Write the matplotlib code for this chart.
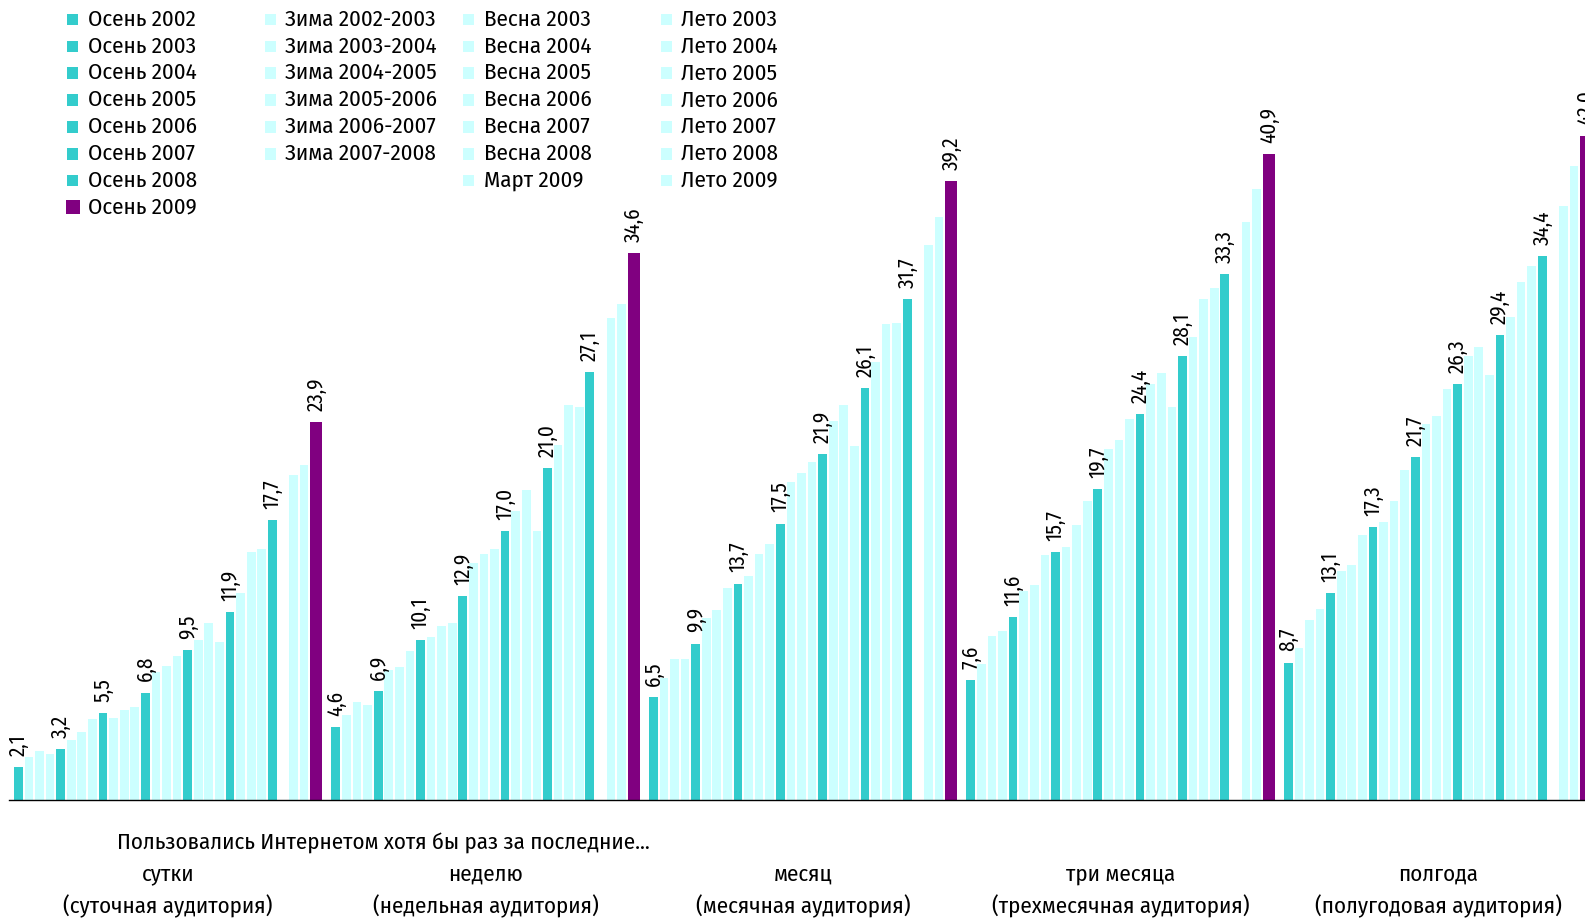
import matplotlib
matplotlib.use('Agg')
import matplotlib.pyplot as plt
from matplotlib.patches import Rectangle
import numpy as np

# ---------------- DATA ----------------
periods = [
    'Осень 2002', 'Зима 2002-2003', 'Весна 2003', 'Лето 2003',
    'Осень 2003', 'Зима 2003-2004', 'Весна 2004', 'Лето 2004',
    'Осень 2004', 'Зима 2004-2005', 'Весна 2005', 'Лето 2005',
    'Осень 2005', 'Зима 2005-2006', 'Весна 2006', 'Лето 2006',
    'Осень 2006', 'Зима 2006-2007', 'Весна 2007', 'Лето 2007',
    'Осень 2007', 'Зима 2007-2008', 'Весна 2008', 'Лето 2008',
    'Осень 2008', 'Март 2009', 'Лето 2009', 'Осень 2009',
]

groups = ['сутки', 'неделю', 'месяц', 'три месяца', 'полгода']
group_sub = ['(суточная аудитория)', '(недельная аудитория)', '(месячная аудитория)',
             '(трехмесячная аудитория)', '(полугодовая аудитория)']

daily = [2.1, 2.7, 3.1, 2.9, 3.2, 3.8, 4.3, 5.1, 5.5, 5.2, 5.7, 5.9, 6.8, 8.1,
         8.5, 9.1, 9.5, 10.1, 11.2, 10.0, 11.9, 13.1, 15.7, 15.9, 17.7, 20.6, 21.2, 23.9]
weekly = [4.6, 5.4, 6.2, 6.0, 6.9, 8.2, 8.4, 9.4, 10.1, 10.3, 11.0, 11.2, 12.9, 15.0,
          15.6, 15.9, 17.0, 18.3, 19.6, 17.0, 21.0, 22.5, 25.0, 24.9, 27.1, 30.5, 31.4, 34.6]
monthly = [6.5, 7.7, 8.9, 8.9, 9.9, 11.5, 12.0, 13.4, 13.7, 14.2, 15.6, 16.2, 17.5, 20.1,
           20.7, 21.4, 21.9, 24.0, 25.0, 22.4, 26.1, 27.7, 30.1, 30.2, 31.7, 35.1, 36.9, 39.2]
three_month = [7.6, 8.6, 10.4, 10.7, 11.6, 13.2, 13.6, 15.5, 15.7, 16.0, 17.4, 18.9, 19.7, 22.2,
               22.8, 24.1, 24.4, 26.3, 27.0, 24.9, 28.1, 29.3, 31.7, 32.4, 33.3, 36.6, 38.7, 40.9]
half_year = [8.7, 9.6, 11.4, 12.1, 13.1, 14.5, 14.9, 16.8, 17.3, 17.6, 18.9, 20.9, 21.7, 23.8,
             24.3, 26.0, 26.3, 28.1, 28.7, 26.9, 29.4, 30.6, 32.8, 33.8, 34.4, 37.6, 40.1, 42.0]
series = [daily, weekly, monthly, three_month, half_year]

intro = 'Пользовались Интернетом хотя бы раз за последние…'

# ---------------- STYLE ----------------
TEAL = '#33CCCC'
LIGHT = '#CCFFFF'
PURPLE = '#800080'
FONT = ['Fira Sans Condensed', 'DejaVu Sans']
plt.rcParams['font.family'] = FONT
TXT = 16.5
VAL = 15.2

W, H = 1585, 923
fig = plt.figure(figsize=(W / 100, H / 100), dpi=100)

PITCH = 10.583      # px per slot
X0 = 14.0           # px of first bar's left edge
AX_L, AX_R = 9, 1605
BASE = 800
TOP = 10
PX_UNIT = 15.8
ax = fig.add_axes([AX_L / W, (H - BASE) / H, (AX_R - AX_L) / W, (BASE - TOP) / H])
ax.set_xlim((AX_L - X0) / PITCH, (AX_R - X0) / PITCH)
ax.set_ylim(0, (BASE - TOP) / PX_UNIT)
for s in ['top', 'right', 'left']:
    ax.spines[s].set_visible(False)
ax.spines['bottom'].set_linewidth(1.0)
ax.spines['bottom'].set_color('black')
ax.set_xticks([])
ax.set_yticks([])
ax.patch.set_alpha(0)

GROUP_SLOTS = 30
def slot_of(i):
    # the slot for "Зима 2008-2009" stays empty (no measurement)
    return i if i < 25 else i + 1

def color_of(p):
    if p == 'Осень 2009':
        return PURPLE
    if p.startswith('Осень'):
        return TEAL
    return LIGHT

for g, vals in enumerate(series):
    xs = [g * GROUP_SLOTS + slot_of(i) for i in range(len(periods))]
    widths = [1.13 if p == 'Осень 2009' else 0.82 for p in periods]
    cols = [color_of(p) for p in periods]
    ax.bar(xs, vals, width=widths, align='edge', color=cols, edgecolor='none', zorder=2)
    for x, w, v, p in zip(xs, widths, vals, periods):
        if p.startswith('Осень'):
            ax.annotate(f'{v:.1f}'.replace('.', ','), xy=(x + w / 2, v),
                        xytext=(0, 8.0), textcoords='offset points',
                        rotation=90, ha='center', va='bottom', fontsize=VAL,
                        color='black', annotation_clip=False)
    gc = g * GROUP_SLOTS + (slot_of(len(periods) - 1) + 1.13) / 2
    ax.text(gc, -(874 - BASE) / (BASE - TOP), groups[g], transform=ax.get_xaxis_transform(),
            ha='center', va='center', fontsize=TXT, color='black')
    ax.text(gc, -(906 - BASE) / (BASE - TOP), group_sub[g], transform=ax.get_xaxis_transform(),
            ha='center', va='center', fontsize=TXT, color='black')

fig.text(117 / W, 1 - 843 / H, intro, ha='left', va='center', fontsize=TXT, color='black')

# ---------------- LEGEND (manual, 4 columns) ----------------
legend_cols = [
    [p for p in periods if p.startswith('Осень')],
    [p for p in periods if p.startswith('Зима')],
    [p for p in periods if p.startswith('Весна') or p.startswith('Март')],
    [p for p in periods if p.startswith('Лето')],
]
mark_x = [72.5, 270.5, 468.5, 666.7]
text_x = [88.3, 285.0, 484.3, 680.7]
ROW0, ROWSTEP = 19.5, 26.85
for c, entries in enumerate(legend_cols):
    for r, p in enumerate(entries):
        yc = ROW0 + ROWSTEP * r
        sz = 14 if p == 'Осень 2009' else 11.5
        fig.patches.append(Rectangle(((mark_x[c] - sz / 2) / W, 1 - (yc + sz / 2) / H),
                                     sz / W, sz / H, transform=fig.transFigure,
                                     facecolor=color_of(p), edgecolor='none'))
        fig.text(text_x[c] / W, 1 - yc / H, p, ha='left', va='center',
                 fontsize=TXT, color='black')

fig.savefig('out.png', dpi=100)
